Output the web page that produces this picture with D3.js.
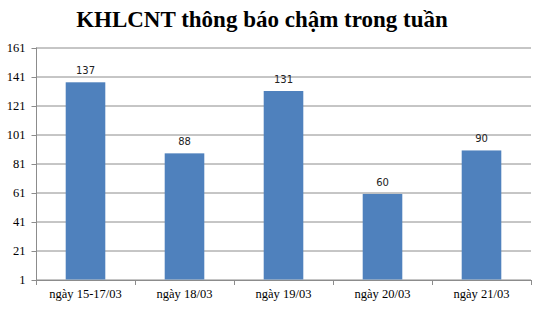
<!DOCTYPE html>
<html>
<head>
<meta charset="utf-8">
<script src="https://cdn.jsdelivr.net/npm/d3@7"></script>
<style>
body { margin: 0; background: #fff; }
</style>
</head>
<body>
<div id="plot"></div>
<script>
// data
var categories = ["ngày 15-17/03", "ngày 18/03", "ngày 19/03", "ngày 20/03", "ngày 21/03"]
var values = [137, 88, 131, 60, 90]
var yTicks = [1, 21, 41, 61, 81, 101, 121, 141, 161]

var W = 540, H = 309
var margin = {top: 47.5, right: 9, bottom: 29.5, left: 36}
var width = W - margin.left - margin.right
var height = H - margin.top - margin.bottom

var svg = d3.select("#plot").append("svg")
    .attr("width", W)
    .attr("height", H)

svg.append("text")
    .attr("x", 262)
    .attr("y", 27)
    .attr("text-anchor", "middle")
    .style("font-family", "'Liberation Serif', serif")
    .style("font-weight", "bold")
    .style("font-size", "23px")
    .text("KHLCNT thông báo chậm trong tuần")

var g = svg.append("g").attr("transform", "translate(" + margin.left + "," + margin.top + ")")

var x = d3.scaleBand()
    .domain(categories)
    .range([0, width])
    .paddingInner(0.6)
    .paddingOuter(0.3)

var xb = d3.scaleBand().domain(categories).range([0, width])

var y = d3.scaleLinear().domain([1, 161]).range([height, 0])

// gridlines
g.selectAll(".grid")
    .data(yTicks)
    .enter().append("line")
    .attr("x1", 0)
    .attr("x2", width)
    .attr("y1", function (d) { return Math.round(y(d)) + 0.5 })
    .attr("y2", function (d) { return Math.round(y(d)) + 0.5 })
    .attr("stroke", "#8c8c8c")
    .attr("stroke-width", 1)

// y axis
var ya = g.append("g")
    .attr("transform", "translate(0.5,0)")
    .call(d3.axisLeft(y).tickValues(yTicks).tickSize(5).tickPadding(6))
ya.selectAll("line").attr("stroke", "#8c8c8c")
    .attr("transform", function () { return "translate(0,0.5)" })
ya.select(".domain").attr("stroke", "#8c8c8c").attr("d", "M0," + (height + 1) + "V0")
ya.selectAll("text")
    .style("font-family", "'Liberation Serif', serif")
    .style("font-size", "12.5px")
    .attr("fill", "#000")

// x axis
var xa = g.append("g")
    .attr("transform", "translate(0," + (Math.round(height) + 0.5) + ")")
    .call(d3.axisBottom(xb).tickSize(0).tickPadding(9))
xa.select(".domain").attr("stroke", "#8c8c8c")
xa.selectAll("text")
    .style("font-family", "'Liberation Serif', serif")
    .style("font-size", "12.5px")
    .attr("fill", "#000")
xa.selectAll(".sep")
    .data(d3.range(categories.length + 1))
    .enter().append("line")
    .attr("x1", function (i) { return Math.round(i * xb.bandwidth()) + 0.5 })
    .attr("x2", function (i) { return Math.round(i * xb.bandwidth()) + 0.5 })
    .attr("y1", 0)
    .attr("y2", 5)
    .attr("stroke", "#8c8c8c")

// bars
g.selectAll(".bar")
    .data(values)
    .enter().append("rect")
    .attr("x", function (d, i) { return x(categories[i]) })
    .attr("y", function (d) { return y(d) })
    .attr("width", x.bandwidth())
    .attr("height", function (d) { return y(1) - y(d) })
    .attr("fill", "#4f81bd")

// value labels
g.selectAll(".lbl")
    .data(values)
    .enter().append("text")
    .attr("x", function (d, i) { return x(categories[i]) + x.bandwidth() / 2 })
    .attr("y", function (d) { return y(d) - 8 })
    .attr("text-anchor", "middle")
    .style("font-family", "'DejaVu Sans', sans-serif")
    .style("font-size", "10px")
    .attr("fill", "#222")
    .text(function (d) { return d })
</script>
</body>
</html>
